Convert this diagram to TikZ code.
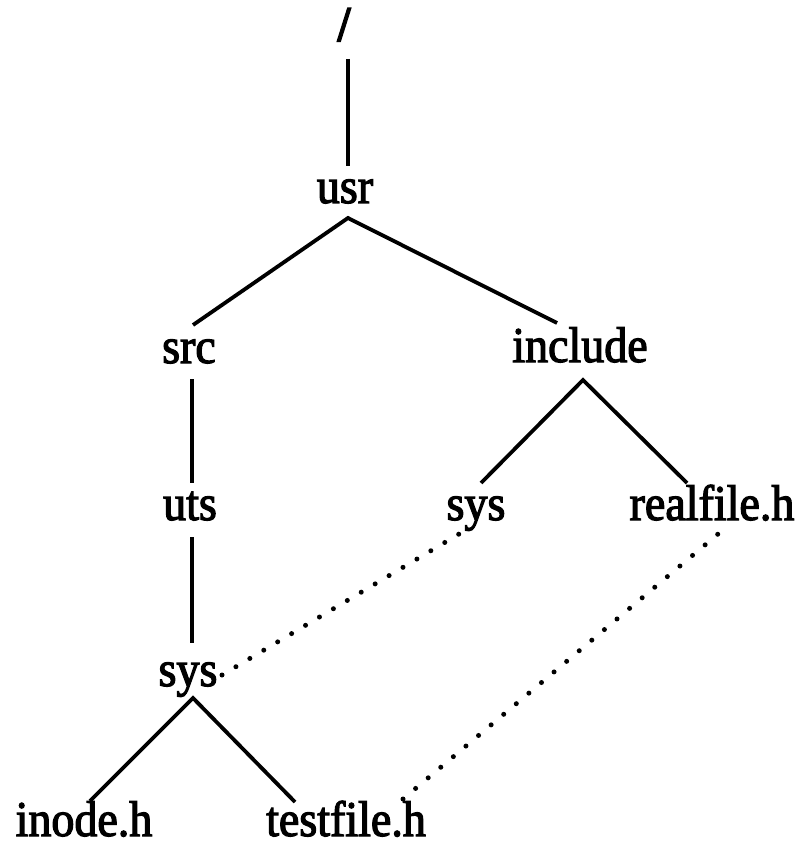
\documentclass[tikz,border=0pt]{standalone}
\usepackage{fontspec}
\setmainfont{Liberation Serif}[FakeStretch=0.92,FakeBold=2.4]
\begin{document}
\begin{tikzpicture}[x=1pt,y=-1pt,
  lbl/.style={font=\fontsize{50}{56}\selectfont, inner sep=0pt, outer sep=0pt, anchor=base},
  edge/.style={line width=3.8pt},
  link/.style={line width=5pt, line cap=round, dash pattern=on 0pt off #1}]
\useasboundingbox (0,0) rectangle (806,850);
% nodes (placed at centre x, baseline y)
\node[lbl, font=\fontsize{50}{56}\selectfont\bfseries] (root) at (344,41) {/};
\node[lbl] (usr)      at (345,203) {usr};
\node[lbl] (src)      at (189,363) {src};
\node[lbl] (include)  at (580,362) {include};
\node[lbl] (uts)      at (190,520) {uts};
\node[lbl] (sysA)     at (476,520) {sys};
\node[lbl] (realfile) at (712,520) {realfile.h};
\node[lbl] (sysB)     at (188,686) {sys};
\node[lbl] (inode)    at (84,836)  {inode.h};
\node[lbl] (testfile) at (346,836) {testfile.h};
% tree edges
\draw[edge] ([shift={(4,18)}]root.base) -- ([shift={(3,-37)}]usr.base);
\draw[edge] ([shift={(4,-38)}]src.base) -- ([shift={(3,15)}]usr.base) -- ([shift={(-23,-39)}]include.base);
\draw[edge] ([shift={(3,16)}]src.base) -- ([shift={(2,-37)}]uts.base);
\draw[edge] ([shift={(5,-37)}]sysA.base) -- ([shift={(3,18)}]include.base) -- ([shift={(-25,-37)}]realfile.base);
\draw[edge] ([shift={(2,17)}]uts.base) -- ([shift={(4,-43)}]sysB.base);
\draw[edge] ([shift={(6,-35)}]inode.base) -- ([shift={(5,12)}]sysB.base) -- ([shift={(-51,-34)}]testfile.base);
% symbolic links (dotted)
\draw[link=16.2pt] ([shift={(34,-11)}]sysB.base) -- ([shift={(-17,14)}]sysA.base);
\draw[link=16.45pt] ([shift={(57,-37)}]testfile.base) -- ([shift={(6,14)}]realfile.base);
\end{tikzpicture}
\end{document}
